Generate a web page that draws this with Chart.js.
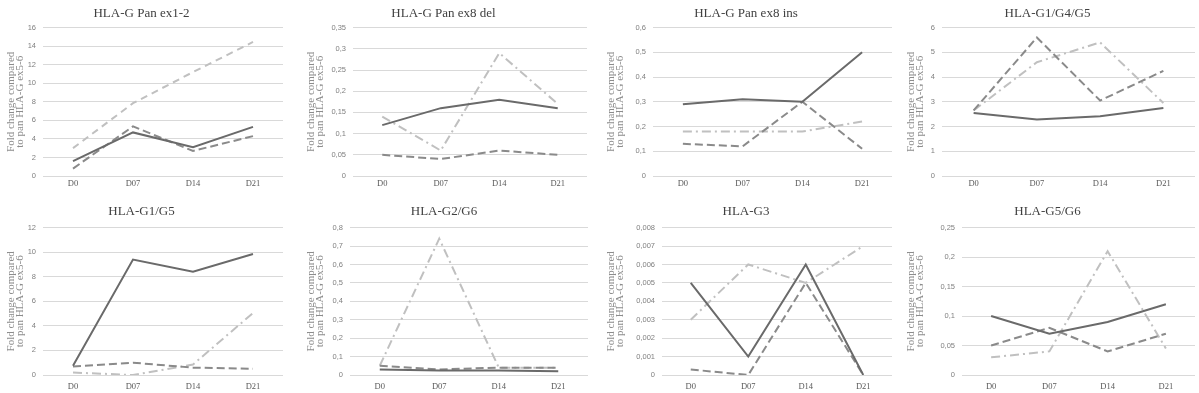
<!DOCTYPE html>
<html><head><meta charset="utf-8">
<script src="https://cdn.jsdelivr.net/npm/chart.js@4/dist/chart.umd.min.js"></script>
<style>
html,body{margin:0;padding:0;background:#fff;overflow:hidden;width:1199px;height:393px;position:relative;}
canvas{position:absolute;}
</style></head><body>
<script>
// ---- data ----
const categories = ['D0', 'D07', 'D14', 'D21'];
const titles = ['HLA-G Pan ex1-2', 'HLA-G Pan ex8 del', 'HLA-G Pan ex8 ins', 'HLA-G1/G4/G5',
                'HLA-G1/G5', 'HLA-G2/G6', 'HLA-G3', 'HLA-G5/G6'];
const yAxisTitle = ['Fold change compared', 'to pan HLA-G ex5-6'];
const yMax  = [16, 0.35, 0.6, 6, 12, 0.8, 0.008, 0.25];
const yStep = [2, 0.05, 0.1, 1, 2, 0.1, 0.001, 0.05];
const solidValues = [
  [1.6, 4.7, 3.1, 5.3],
  [0.12, 0.16, 0.18, 0.16],
  [0.29, 0.31, 0.30, 0.50],
  [2.55, 2.28, 2.42, 2.75],
  [0.75, 9.4, 8.4, 9.85],
  [0.03, 0.025, 0.025, 0.02],
  [0.005, 0.001, 0.006, 0],
  [0.10, 0.07, 0.09, 0.12]
];
const dashedValues = [
  [0.8, 5.35, 2.7, 4.3],
  [0.05, 0.04, 0.06, 0.05],
  [0.13, 0.12, 0.30, 0.11],
  [2.65, 5.6, 3.05, 4.25],
  [0.7, 1.0, 0.6, 0.5],
  [0.05, 0.03, 0.04, 0.04],
  [0.0003, 0, 0.005, 0],
  [0.05, 0.08, 0.04, 0.07]
];
const lightValues = [
  [3.0, 7.85, 11.2, 14.45],
  [0.14, 0.06, 0.29, 0.17],
  [0.18, 0.18, 0.18, 0.22],
  [2.65, 4.6, 5.4, 2.95],
  [0.2, 0.0, 0.85, 5.05],
  [0.05, 0.74, 0.04, 0.04],
  [0.003, 0.006, 0.005, 0.007],
  [0.03, 0.04, 0.21, 0.045]
];

// ---- layout (positions/sizes, separate from data) ----
const canvasLeft  = [0, 300, 600, 900, 0, 300, 600, 900];
const canvasWidth = [284, 290, 298, 306, 284, 288, 298, 304];
const plotLeftRel = [43, 53, 53, 42, 43, 50, 62, 62];
const plotRightAbs = [283, 587, 892, 1195, 283, 588, 892, 1195];

function fmt(v, step) {
  const dec = step >= 1 ? 0 : Math.round(-Math.log10(step)) + 1;
  return String(Number(v.toFixed(dec))).replace('.', ',');
}

for (let i = 0; i < 8; i++) {
  const topRow = i < 4;
  const c = document.createElement('canvas');
  const h = topRow ? 196 : 197;
  c.width = canvasWidth[i];
  c.height = h;
  c.style.left = canvasLeft[i] + 'px';
  c.style.top = (topRow ? 0 : 196) + 'px';
  document.body.appendChild(c);
  const lightDash = i === 0 ? [7, 5] : [9, 4, 2, 4];
  const plotLeft = plotLeftRel[i];
  const xHeight = topRow ? 20 : 18;
  new Chart(c, {
    type: 'line',
    data: {
      labels: categories,
      datasets: [
        { data: solidValues[i], borderColor: '#6a6a6a', borderWidth: 2, pointRadius: 0, tension: 0 },
        { data: dashedValues[i], borderColor: '#8a8a8a', borderWidth: 2, borderDash: [8, 4], pointRadius: 0, tension: 0 },
        { data: lightValues[i], borderColor: '#c0c0c0', borderWidth: 2, borderDash: lightDash, pointRadius: 0, tension: 0 }
      ]
    },
    options: {
      responsive: false,
      animation: false,
      layout: { padding: { left: 0, right: canvasWidth[i] - (plotRightAbs[i] - canvasLeft[i]), top: 0, bottom: 0 } },
      plugins: {
        legend: { display: false },
        tooltip: { enabled: false },
        title: {
          display: true, text: titles[i], color: '#404040',
          font: { family: 'Liberation Serif', size: 13, weight: 'normal', lineHeight: 1.2 },
          padding: topRow ? { top: 6, bottom: 6 } : { top: 8, bottom: 8 }
        }
      },
      scales: {
        x: {
          offset: true,
          grid: { display: false, drawTicks: false },
          border: { display: false },
          ticks: { color: '#595959', padding: topRow ? 3 : 7, font: { family: 'Liberation Serif', size: 8.5 } },
          afterFit: s => { s.height = xHeight; }
        },
        y: {
          min: 0, max: yMax[i],
          grid: { color: '#d9d9d9', lineWidth: 1, drawTicks: false },
          border: { display: false },
          ticks: {
            stepSize: yStep[i], color: '#7f7f7f', padding: 7,
            font: { family: 'Liberation Sans', size: 7.5 },
            callback: v => fmt(v, yStep[i])
          },
          title: {
            display: true, text: yAxisTitle, color: '#8c8c8c',
            font: { family: 'Liberation Serif', size: 11, lineHeight: 0.88 },
            padding: { top: 6, bottom: 0 }
          },
          afterFit: s => { s.width = plotLeft; }
        }
      }
    }
  });
}
</script>
</body></html>
